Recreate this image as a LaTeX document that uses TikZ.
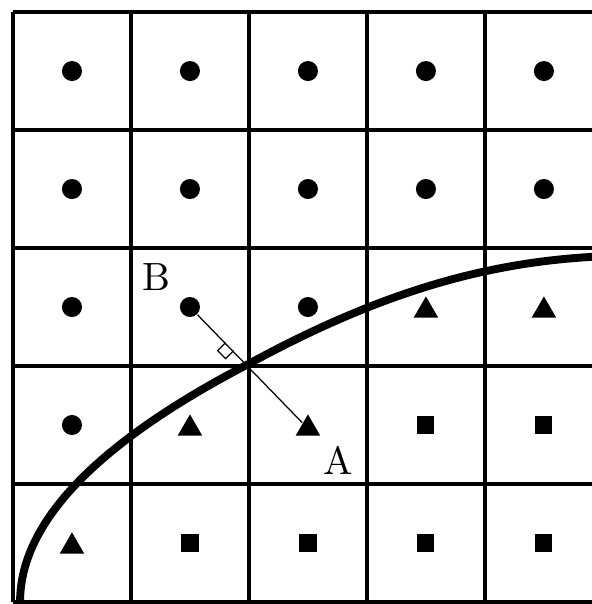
\documentclass[tikz,border=0pt]{standalone}
\usetikzlibrary{shapes.geometric}
\newcommand{\LabelFont}{\fontsize{9.5}{11}\selectfont}

\begin{document}
\begin{tikzpicture}[x=1cm,y=1cm,
  dotmark/.style={circle,fill=black,inner sep=0pt,minimum size=.17cm},
  trimark/.style={regular polygon,regular polygon sides=3,fill=black,inner sep=0pt,minimum size=.24cm,yshift=-.3mm},
  sqmark/.style={rectangle,fill=black,inner sep=0pt,minimum size=.145cm},
  gridline/.style={draw=black,line width=.8pt},
  boundary/.style={draw=black,line width=1.9pt},
  normalline/.style={draw=black,line width=.3pt}]
  \useasboundingbox (-.110,-.017) rectangle (4.907,5.102);
  \draw[gridline] (0,0) grid (5,5);
  % sample points, one per cell
  \foreach \c/\r/\kind in {1/5/dotmark,2/5/dotmark,3/5/dotmark,4/5/dotmark,5/5/dotmark,
      1/4/dotmark,2/4/dotmark,3/4/dotmark,4/4/dotmark,5/4/dotmark,
      1/3/dotmark,2/3/dotmark,3/3/dotmark,4/3/trimark,5/3/trimark,
      1/2/dotmark,2/2/trimark,3/2/trimark,4/2/sqmark,5/2/sqmark,
      1/1/trimark,2/1/sqmark,3/1/sqmark,4/1/sqmark,5/1/sqmark}
    \node[\kind] (m-\c-\r) at (\c-.5,\r-.5) {};
  % interface
  \draw[boundary] (.06,0) .. controls (.06,.677) and (.713,1.353) .. (2.02,2.03)
    .. controls (3.2,2.67) and (4.1,2.89) .. (5.0,2.93);
  \draw[normalline] (m-2-3) -- (m-3-2);
  \draw[normalline] (1.87,2.13) -- (1.802,2.062) -- (1.734,2.13) -- (1.802,2.198);
  \node[font=\LabelFont,inner sep=0pt] (labelB) at (1.22,2.75) {B};
  \node[font=\LabelFont,inner sep=0pt] (labelA) at (2.754,1.20) {A};
\end{tikzpicture}
\end{document}
